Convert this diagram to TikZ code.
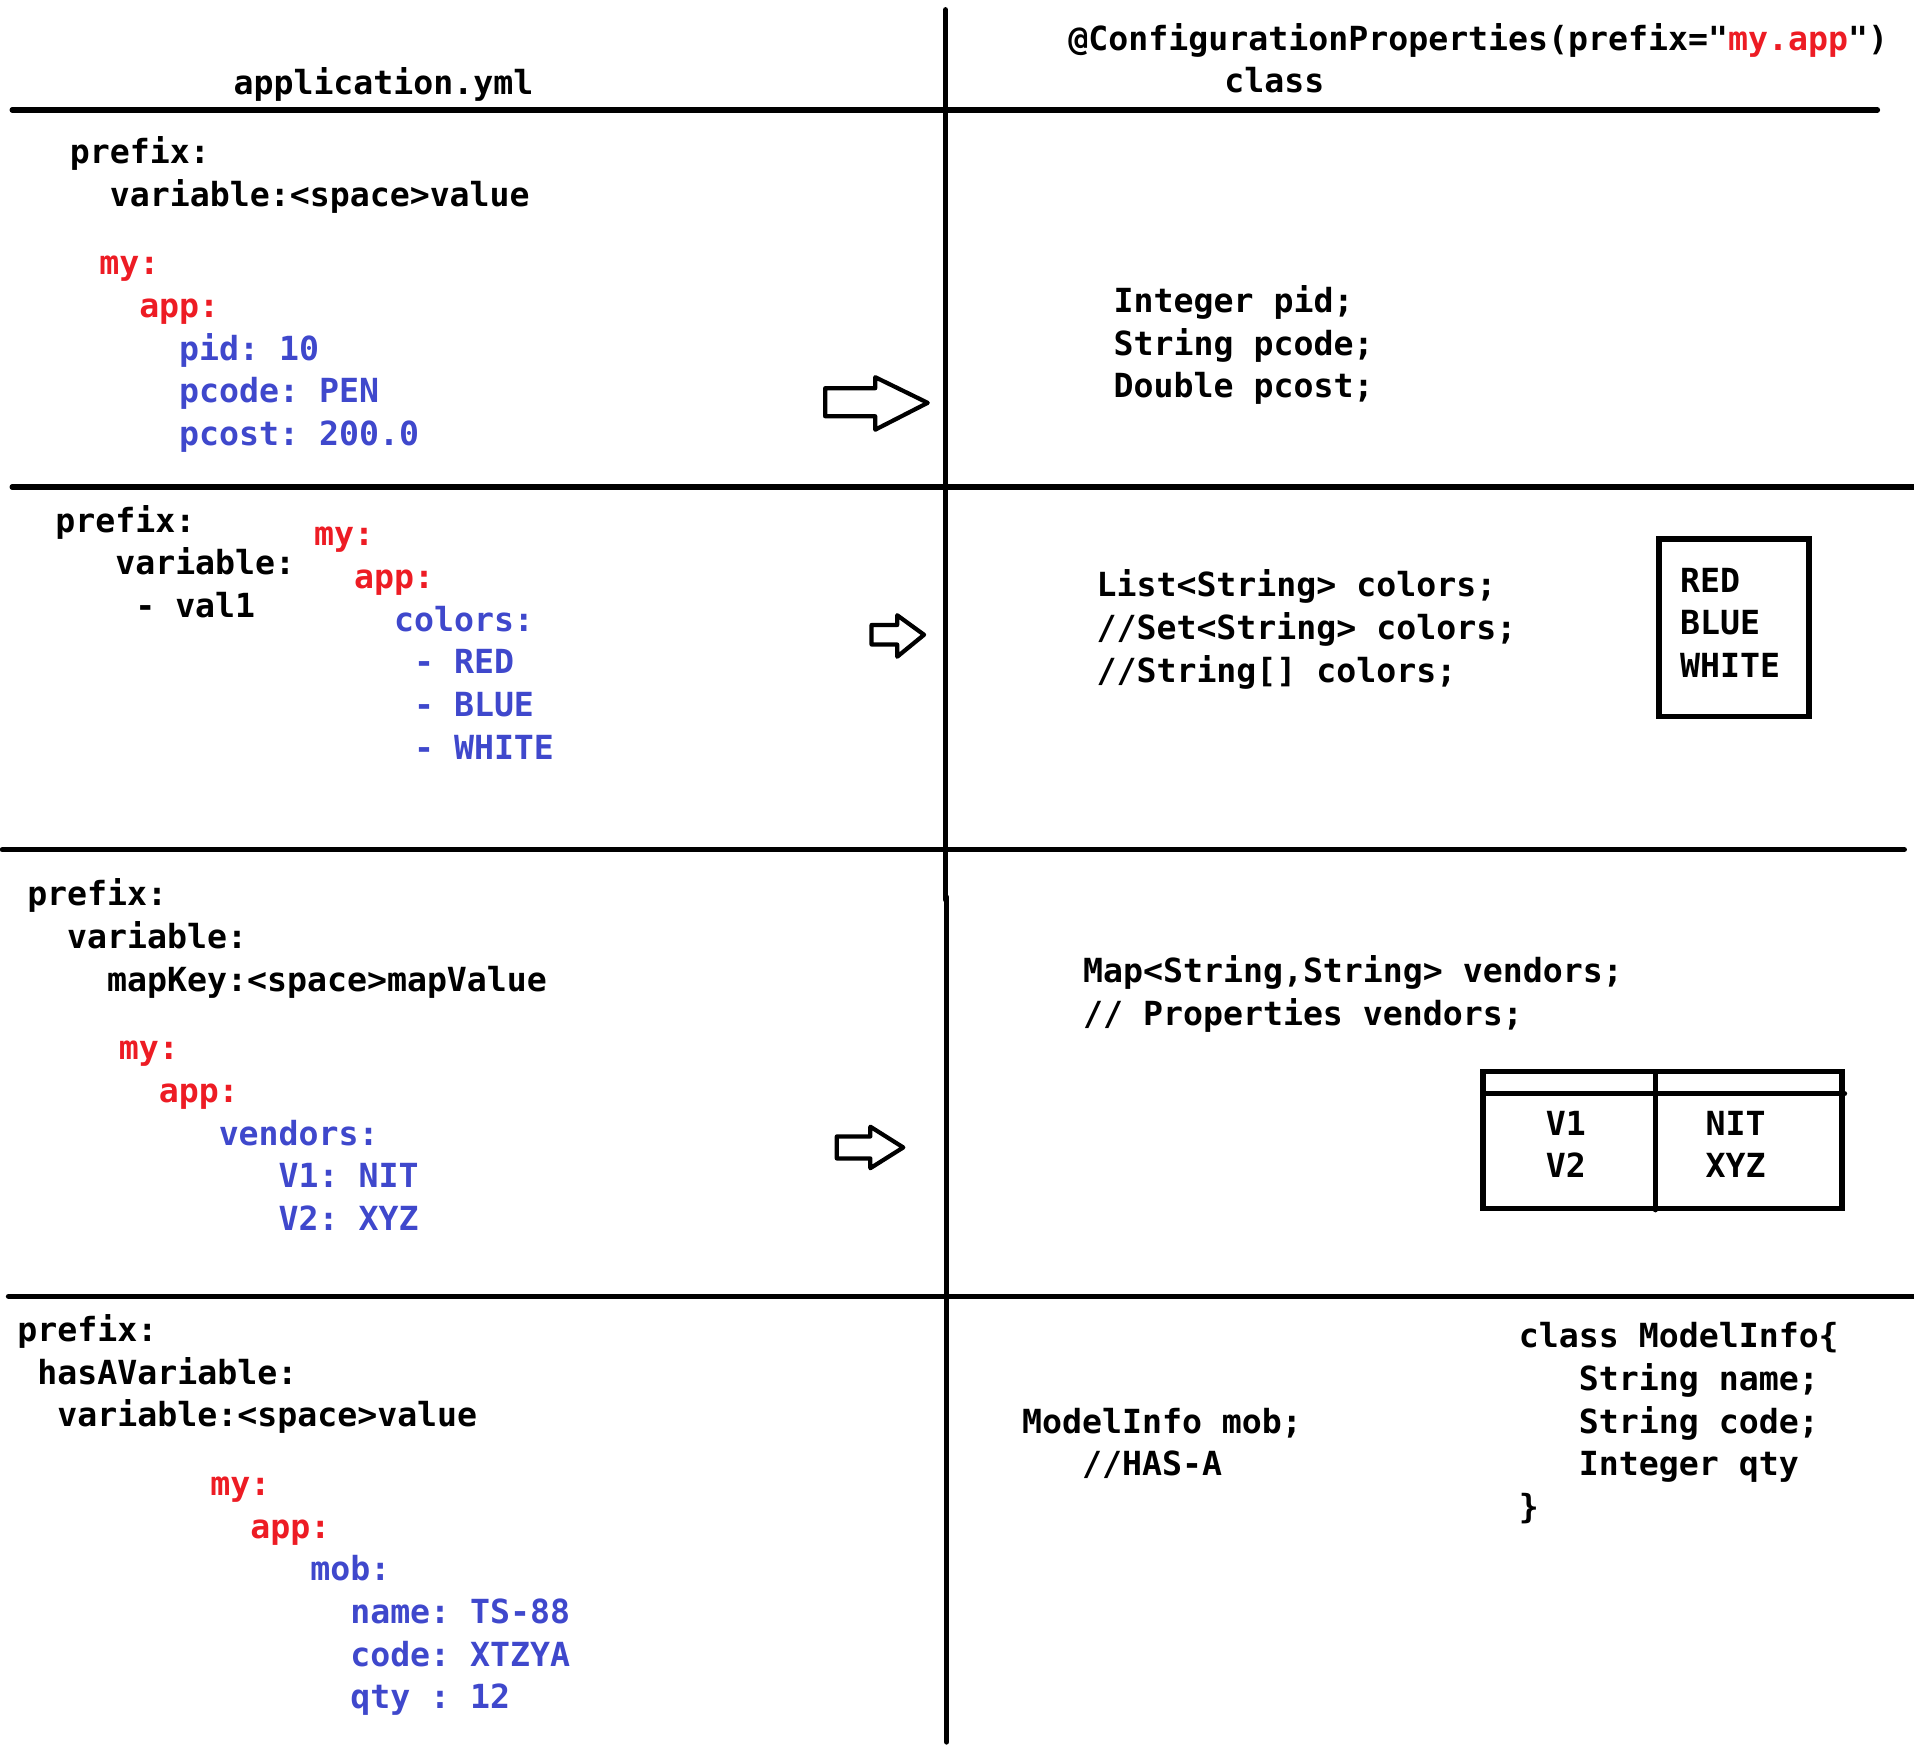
\documentclass[tikz,border=0pt]{standalone}
\usepackage{fontspec}
\setmonofont{DejaVu Sans Mono}
\usepackage{xcolor}
\definecolor{ymlred}{HTML}{ED1C24}
\definecolor{ymlblue}{HTML}{3F48CC}
\newcommand\indch[1]{\hspace*{#1\fontcharwd\font`0}}
\newcommand\bl[1]{\textcolor{ymlblue}{#1}}

\begin{document}
\begin{tikzpicture}[x=0.6103pt, y=-0.6103pt]
  % nodes sit on the baseline of their last line
  \tikzstyle{txt} = [font=\ttfamily\bfseries\fontsize{16.6}{21.36}\selectfont, inner sep=0pt, anchor=base west, align=left]
  \tikzstyle{yml} = [txt, text=ymlred]
  \tikzstyle{rule} = [line width=2.7pt, line cap=round]
  \tikzstyle{blockarr} = [line width=2.1pt, line join=round]
  \useasboundingbox (0,0) rectangle (1568,1433.6);

  % grid
  \draw[rule] (10,90) -- (1538,90);
  \draw[rule] (10,399) -- (1568,399);
  \draw[rule] (2,696) -- (1560,696);
  \draw[rule] (7,1062) -- (1568,1062);
  \draw[rule] (774.5,8) -- (774.5,737);
  \draw[rule] (775.5,735) -- (775.5,1427);

  % header
  \node[txt] (hdrYml) at (191,77) {application.yml};
  \node[txt] (hdrCls) at (875,76) {@ConfigurationProperties(prefix="\textcolor{ymlred}{my.app}")\\\indch{7.8}class};

  % row 1
  \node[txt] (key1) at (57,169) {prefix:\\\indch{2}variable:<space>value};
  \node[yml] (yml1) at (81,365) {my:\\\indch{2}app:\\\indch{4}\bl{pid: 10}\\\indch{4}\bl{pcode: PEN}\\\indch{4}\bl{pcost: 200.0}};
  \node[txt] (cls1) at (912,326) {Integer pid;\\String pcode;\\Double pcost;};
  \draw[blockarr] (676,318) -- (717,318) -- (717,309) -- (760,330) -- (717,352) -- (717,341) -- (676,341) -- cycle;

  % row 2
  \node[txt] (key2) at (45,506) {prefix:\\\indch{3}variable:\\\indch{4}- val1};
  \node[yml] (yml2) at (257,622) {my:\\\indch{2}app:\\\indch{4}\bl{colors:}\\\indch{5}\bl{- RED}\\\indch{5}\bl{- BLUE}\\\indch{5}\bl{- WHITE}};
  \node[txt] (cls2) at (898,559) {List<String> colors;\\//Set<String> colors;\\//String[] colors;};
  \draw[rule] (1359,441.5) rectangle (1482,587);
  \node[txt] (vals2) at (1376,555) {RED\\BLUE\\WHITE};
  \draw[blockarr] (714,512) -- (735,512) -- (735,504) -- (757,520) -- (735,538) -- (735,528) -- (714,528) -- cycle;

  % row 3
  \node[txt] (key3) at (22,812) {prefix:\\\indch{2}variable:\\\indch{4}mapKey:<space>mapValue};
  \node[yml] (yml3) at (97,1008) {my:\\\indch{2}app:\\\indch{5}\bl{vendors:}\\\indch{8}\bl{V1: NIT}\\\indch{8}\bl{V2: XYZ}};
  \node[txt] (cls3) at (887,840) {Map<String,String> vendors;\\// Properties vendors;};
  \draw[rule] (1215,878) rectangle (1509,990);
  \draw[rule] (1215,896) -- (1511,896);
  \draw[rule] (1356,878) -- (1356,991);
  \node[txt] (mapK) at (1266,965) {V1\\V2};
  \node[txt] (mapV) at (1397,965) {NIT\\XYZ};
  \draw[blockarr] (685.5,931) -- (713,931) -- (713,923) -- (740,940) -- (713,957) -- (713,949) -- (685.5,949) -- cycle;

  % row 4
  \node[txt] (key4) at (14,1169) {prefix:\\\indch{1}hasAVariable:\\\indch{2}variable:<space>value};
  \node[yml] (yml4) at (172,1400) {my:\\\indch{2}app:\\\indch{5}\bl{mob:}\\\indch{7}\bl{name: TS-88}\\\indch{7}\bl{code: XTZYA}\\\indch{7}\bl{qty : 12}};
  \node[txt] (cls4) at (837,1209) {ModelInfo mob;\\\indch{3}//HAS-A};
  \node[txt] (model4) at (1244,1244) {class ModelInfo\{\\\indch{3}String name;\\\indch{3}String code;\\\indch{3}Integer qty\\\}};
\end{tikzpicture}
\end{document}
